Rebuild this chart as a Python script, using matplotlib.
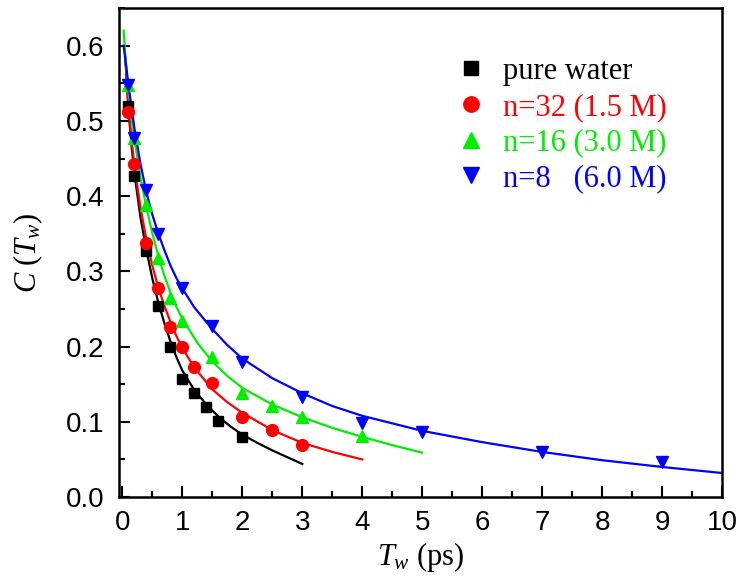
import matplotlib
matplotlib.use("Agg")
from matplotlib import pyplot as plt
from matplotlib.ticker import MultipleLocator

plt.rcParams['mathtext.fontset'] = 'custom'
plt.rcParams['mathtext.rm'] = 'Liberation Serif'
plt.rcParams['mathtext.it'] = 'Liberation Serif:italic'

# measured points
x_water = [0.1, 0.2, 0.4, 0.6, 0.8, 1.0, 1.2, 1.4, 1.6, 2.0]
y_water = [0.52, 0.427, 0.327, 0.254, 0.2, 0.157, 0.139, 0.12, 0.101, 0.080]
x_n32 = [0.1, 0.2, 0.4, 0.6, 0.8, 1.0, 1.2, 1.5, 2.0, 2.5, 3.0]
y_n32 = [0.512, 0.443, 0.338, 0.278, 0.226, 0.199, 0.173, 0.152, 0.107, 0.089, 0.069]
x_n16 = [0.1, 0.2, 0.4, 0.6, 0.8, 1.0, 1.5, 2.0, 2.5, 3.0, 4.0]
y_n16 = [0.548, 0.478, 0.388, 0.318, 0.264, 0.234, 0.186, 0.138, 0.121, 0.106, 0.081]
x_n8 = [0.1, 0.2, 0.4, 0.6, 1.0, 1.5, 2.0, 3.0, 4.0, 5.0, 7.0, 9.0]
y_n8 = [0.548, 0.478, 0.408, 0.35, 0.278, 0.228, 0.18, 0.133, 0.099, 0.086, 0.060, 0.046]

# fit curves
fx_water = [0.05, 0.1, 0.15, 0.2, 0.3, 0.4, 0.5, 0.6, 0.7, 0.8, 0.9, 1.0, 1.2, 1.4, 1.6, 1.8, 2.0, 2.25, 2.5, 2.75, 3.0]
fy_water = [0.58, 0.515, 0.468, 0.43, 0.372, 0.328, 0.29, 0.258, 0.231, 0.207, 0.186, 0.168, 0.142, 0.123, 0.107, 0.094, 0.083, 0.072, 0.062, 0.053, 0.044]
fx_n32 = [0.05, 0.1, 0.15, 0.2, 0.3, 0.4, 0.5, 0.6, 0.7, 0.8, 0.9, 1.0, 1.2, 1.5, 1.75, 2.0, 2.5, 3.0, 3.5, 4.0]
fy_n32 = [0.585, 0.52, 0.476, 0.44, 0.385, 0.342, 0.307, 0.278, 0.254, 0.233, 0.214, 0.198, 0.172, 0.143, 0.126, 0.112, 0.089, 0.072, 0.060, 0.050]
fx_n16 = [0.02, 0.05, 0.1, 0.15, 0.2, 0.3, 0.4, 0.5, 0.6, 0.7, 0.8, 0.9, 1.0, 1.25, 1.5, 1.75, 2.0, 2.5, 3.0, 3.5, 4.0, 4.5, 5.0]
fy_n16 = [0.62, 0.585, 0.54, 0.505, 0.475, 0.425, 0.385, 0.35, 0.32, 0.294, 0.272, 0.253, 0.237, 0.205, 0.18, 0.161, 0.145, 0.123, 0.106, 0.092, 0.080, 0.069, 0.059]
fx_n8 = [0.02, 0.05, 0.1, 0.2, 0.3, 0.4, 0.5, 0.6, 0.7, 0.8, 0.9, 1.0, 1.2, 1.5, 1.75, 2.0, 2.5, 3.0, 3.5, 4.0, 5.0, 6.0, 7.0, 8.0, 9.0, 10.0]
fy_n8 = [0.60, 0.58, 0.548, 0.49, 0.443, 0.405, 0.375, 0.35, 0.328, 0.308, 0.291, 0.277, 0.252, 0.223, 0.202, 0.184, 0.158, 0.138, 0.121, 0.108, 0.088, 0.073, 0.060, 0.049, 0.040, 0.032]

fig = plt.figure(figsize=(7.42, 5.8), dpi=100)
ax = fig.add_axes([0.161, 0.143, 0.812, 0.843])

green = '#00ee00'
ax.plot(fx_water, fy_water, color='black', lw=1.6)
ax.plot(fx_n32, fy_n32, color='red', lw=1.6)
ax.plot(fx_n16, fy_n16, color=green, lw=1.6)
ax.plot(fx_n8, fy_n8, color='blue', lw=1.6)

ax.plot(x_water, y_water, 's', color='black', ms=7.5, ls='none', label='pure water')
ax.plot(x_n32, y_n32, 'o', color='red', ms=8.5, ls='none', label='n=32 (1.5 M)')
ax.plot(x_n16, y_n16, '^', color=green, ms=8.5, ls='none', label='n=16 (3.0 M)')
ax.plot(x_n8, y_n8, 'v', color='blue', ms=8.5, ls='none', label='n=8   (6.0 M)')

ax.set_xlim(-0.05, 10)
ax.set_ylim(0, 0.65)
ax.xaxis.set_major_locator(MultipleLocator(1))
ax.xaxis.set_minor_locator(MultipleLocator(0.5))
ax.yaxis.set_major_locator(MultipleLocator(0.1))
ax.yaxis.set_minor_locator(MultipleLocator(0.05))
ax.yaxis.set_major_formatter(lambda v, p: f"{v:.1f}")
ax.tick_params(which='both', direction='in', top=False, right=False, width=1.5)
ax.tick_params(which='major', length=8, labelsize=20)
ax.tick_params(which='minor', length=4)
ax.tick_params(axis='x', pad=9)
ax.tick_params(axis='y', pad=11)
for lab in ax.get_xticklabels() + ax.get_yticklabels():
    lab.set_family('Liberation Sans')
for sp in ax.spines.values():
    sp.set_linewidth(1.8)

ax.set_xlabel(r'$T_w$ (ps)', fontsize=22, family='Liberation Serif', labelpad=3)
ax.set_ylabel(r'$C\ (T_w)$', fontsize=22, family='Liberation Serif', labelpad=15)

leg = ax.legend(loc='upper left', bbox_to_anchor=(0.537, 0.925), frameon=False,
                prop={'family': 'Liberation Serif', 'size': 22},
                markerscale=1.3, handlelength=1.0, handletextpad=0.55, labelspacing=0.22,
                borderaxespad=0)
for txt, c in zip(leg.get_texts(), ['black', 'red', green, 'blue']):
    txt.set_color(c)

fig.savefig('out.png', dpi=100)
